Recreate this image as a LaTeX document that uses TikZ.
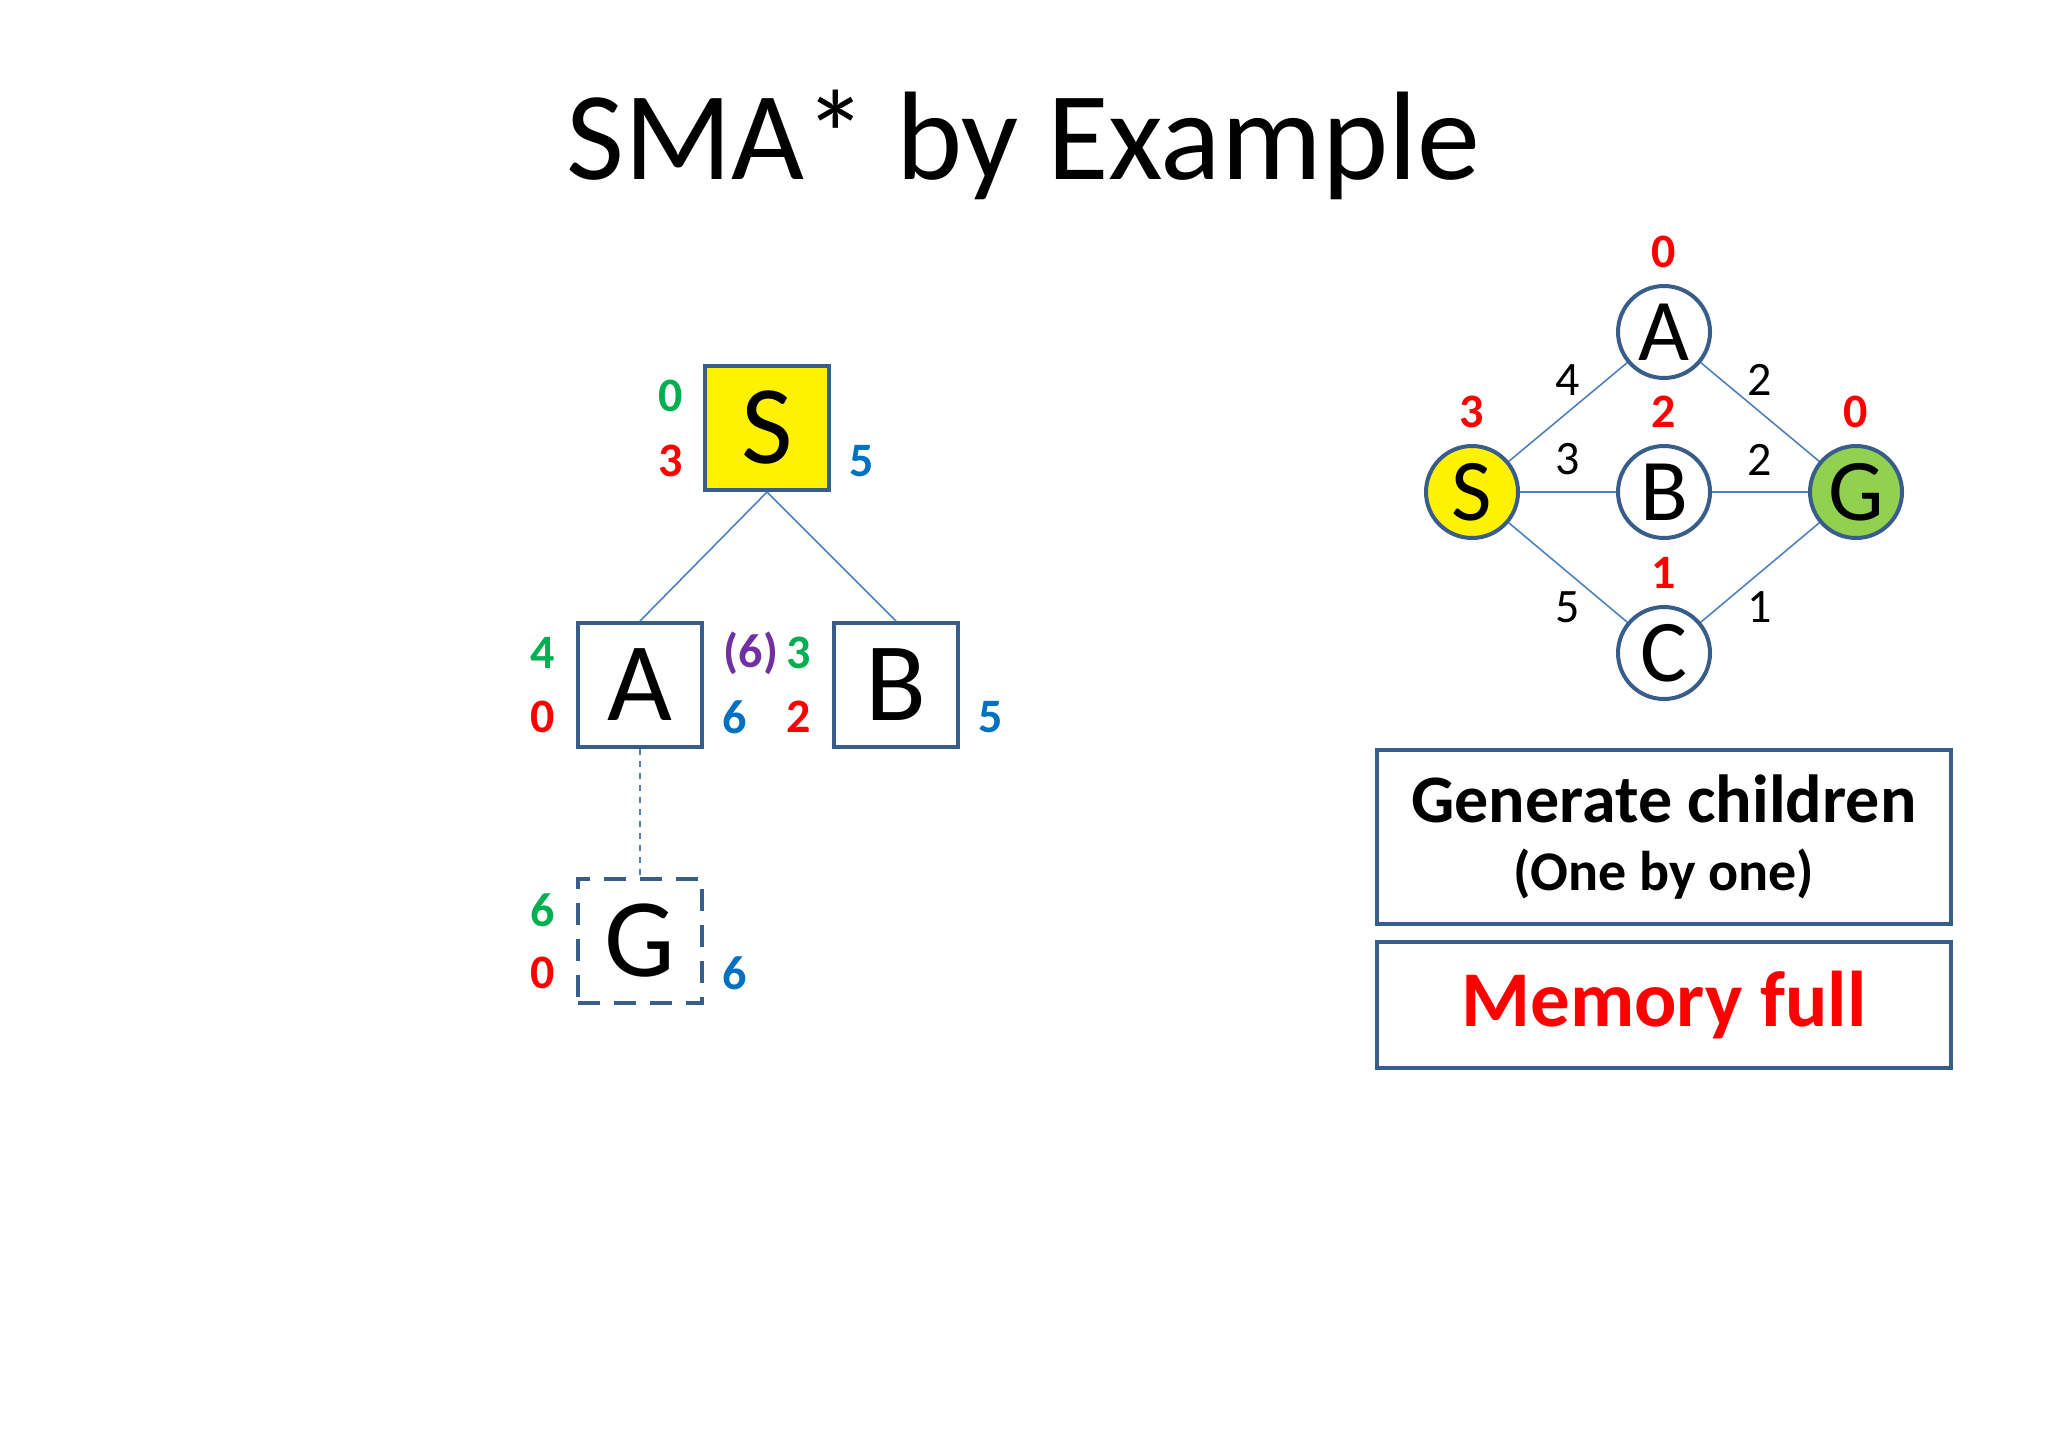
\documentclass[tikz,border=0pt]{standalone}
\usepackage{fontspec}
\setmainfont{Carlito}
\usetikzlibrary{positioning, calc}

\definecolor{edgeblue}{HTML}{4F81BD}
\definecolor{boxblue}{HTML}{385D8A}
\definecolor{ggreen}{HTML}{00B050}
\definecolor{fblue}{HTML}{0070C0}
\definecolor{hpurple}{HTML}{7030A0}
\definecolor{goalgreen}{HTML}{92D050}

\begin{document}
\begin{tikzpicture}[
    x=0.5pt, y=-0.5pt,
    tbox/.style={rectangle, draw=boxblue, line width=2pt, fill=white, minimum size=62pt, inner sep=0pt, font=\fontsize{56}{60}\selectfont},
    gcirc/.style={circle, draw=boxblue, line width=2pt, fill=white, minimum size=46pt, inner sep=0pt, font=\fontsize{44}{48}\selectfont},
    gval/.style={text=ggreen, inner sep=0pt, font=\bfseries\fontsize{24}{24}\selectfont},
    hval/.style={text=red, inner sep=0pt, font=\bfseries\fontsize{24}{24}\selectfont},
    fval/.style={text=fblue, inner sep=0pt, font=\bfseries\fontsize{24}{24}\selectfont},
    cost/.style={inner sep=0pt, font=\fontsize{24}{24}\selectfont},
    link/.style={draw=edgeblue, line width=0.8pt},
    msgbox/.style={rectangle, draw=boxblue, line width=2pt, minimum width=287pt, align=center, font=\bfseries}
]
\useasboundingbox (0,0) rectangle (2048,1434);

% Title
\node[anchor=base, font=\fontsize{63}{70}\selectfont] (title) at (1023,179) {SMA* by Example};

% Search tree
\node[tbox, fill=yellow] (tS) at (767,428) {S};
\node[tbox] (tA) at (640,685) {A};
\node[tbox] (tB) at (896,685) {B};
\node[tbox, dashed, dash pattern=on 11pt off 7pt] (tG) at (640,941) {G};

\draw[link] (tS.south) -- (tA.north);
\draw[link] (tS.south) -- (tB.north);
\draw[link, dashed] (tA.south) -- (tG.north);

\node[gval] (gS) at ($(tS.west)+(-32,-32)$) {0};
\node[hval] (hS) at ($(tS.west)+(-32,33)$) {3};
\node[fval] (fS) at ($(tS.east)+(31,33)$) {5};

\node[gval] (gA) at ($(tA.west)+(-33,-32)$) {4};
\node[hval] (hA) at ($(tA.west)+(-33,32)$) {0};
\node[fval] (fA) at ($(tA.east)+(31,32)$) {6};
\node[text=hpurple, inner sep=0pt, font=\bfseries\fontsize{24}{24}\selectfont] (bA) at ($(tA.east)+(47,-32)$) {(6)};

\node[gval] (gB) at ($(tB.west)+(-33,-32)$) {3};
\node[hval] (hB) at ($(tB.west)+(-33,32)$) {2};
\node[fval] (fB) at ($(tB.east)+(31,32)$) {5};

\node[gval] (gG) at ($(tG.west)+(-33,-31)$) {6};
\node[hval] (hG) at ($(tG.west)+(-33,32)$) {0};
\node[fval] (fG) at ($(tG.east)+(31,32)$) {6};

% Problem graph
\node[gcirc] (pA) at (1664,332) {A};
\node[gcirc, fill=yellow] (pS) at (1472,492) {S};
\node[gcirc] (pB) at (1664,492) {B};
\node[gcirc, fill=goalgreen] (pG) at (1856,492) {G};
\node[gcirc] (pC) at (1664,653) {C};

\draw[link] (pS) -- node[cost, above=8pt] (cSA) {4} (pA);
\draw[link] (pA) -- node[cost, above=8pt] (cAG) {2} (pG);
\draw[link] (pS) -- node[cost, above=8pt] (cSB) {3} (pB);
\draw[link] (pB) -- node[cost, above=8pt] (cBG) {2} (pG);
\draw[link] (pS) -- node[cost, below=9pt] (cSC) {5} (pC);
\draw[link] (pC) -- node[cost, below=9pt] (cCG) {1} (pG);

\node[hval, above=8pt of pA] (hpA) {0};
\node[hval, above=8pt of pS] (hpS) {3};
\node[hval, above=8pt of pB] (hpB) {2};
\node[hval, above=8pt of pG] (hpG) {0};
\node[hval, above=8pt of pC] (hpC) {1};

% Status boxes
\node[msgbox, minimum height=87pt] (gen) at (1664,837)
  {\fontsize{34}{36}\selectfont Generate children\\[12pt]\fontsize{28}{30}\selectfont (One by one)};
\node[msgbox, minimum height=63pt, text=red, font=\bfseries\fontsize{39.5}{42}\selectfont] (mem) at (1664,1005) {Memory full};

\end{tikzpicture}
\end{document}
